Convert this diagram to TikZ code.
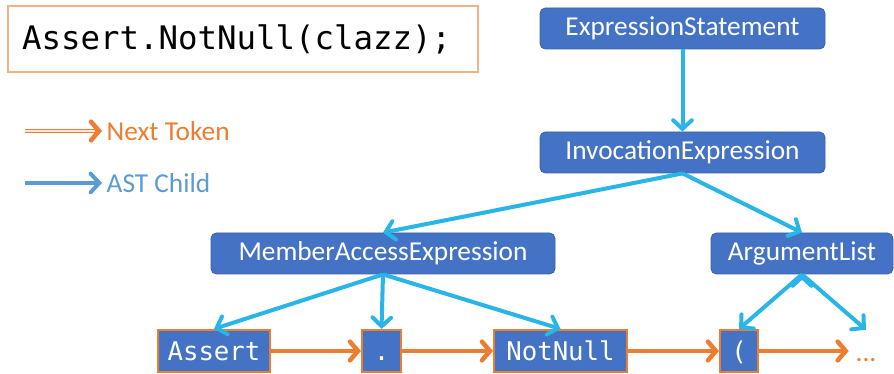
\documentclass[tikz,border=0pt]{standalone}
\usepackage{fontspec}
\setmainfont{Carlito}
\newfontfamily\codefont{DejaVu Sans Mono}
\usetikzlibrary{arrows.meta, positioning}

\definecolor{nodeblue}{HTML}{4472C4}
\definecolor{edgeblue}{HTML}{29B5E8}
\definecolor{tokorange}{HTML}{ED7D31}
\definecolor{legblue}{HTML}{5B9BD5}
\definecolor{codeborder}{HTML}{F4B183}

\begin{document}
\begin{tikzpicture} [
						x=0.75pt, y=-0.75pt,
						astnode/.style={rectangle, rounded corners=4pt, draw=nodeblue!85!black, line width=0.6pt, fill=nodeblue, text=white, minimum height=30.75pt, inner sep=0pt, font=\fontsize{20.5}{22}\selectfont},
						token/.style={rectangle, draw=tokorange, line width=1.6pt, fill=nodeblue, text=white, minimum height=31.5pt, inner sep=0pt, text height=15.5pt, text depth=1.5pt, font=\codefont\fontsize{19.3}{21}\selectfont},
						child/.style={draw=edgeblue, line width=3pt, -{Straight Barb[length=6.5pt, width=14pt, line cap=round]}},
						nexttok/.style={draw=tokorange, line width=3.4pt, -{Straight Barb[length=6pt, width=14pt, line cap=round]}, postaction={draw=tokorange!20, line width=1.3pt, -, shorten >=5pt}}
					]

\useasboundingbox (0,0) rectangle (894,374);

% source line
\node (code) [draw=codeborder, line width=1pt, text width=331.5pt, inner xsep=10.5pt, minimum height=49.5pt, align=left, font=\codefont\fontsize{24.3}{26}\selectfont] at (243,39) {Assert.NotNull(clazz);};

% legend
\coordinate (ntstart) at (25,131);
\coordinate (acstart) at (25,183);
\node (ntlabel) [anchor=west, text=tokorange, font=\fontsize{20.5}{22}\selectfont] at (102,131) {Next Token};
\node (aclabel) [anchor=west, text=legblue, font=\fontsize{20.5}{22}\selectfont] at (102,183) {AST Child};
\draw[nexttok] (ntstart) -- (ntlabel.west);
\draw[child, draw=legblue] (acstart) -- (aclabel.west);

% syntax tree
\node (es)  [astnode, minimum width=213.75pt] at (682.5,28.5) {ExpressionStatement};
\node (ie)  [astnode, minimum width=213.75pt] at (682.5,152.5) {InvocationExpression};
\node (mae) [astnode, minimum width=258pt] at (383,253.5) {MemberAccessExpression};
\node (al)  [astnode, minimum width=136.5pt] at (802,253.5) {ArgumentList};

% tokens
\node (assert)  [token, minimum width=84pt] at (214,351) {Assert};
\node (dot)     [token, minimum width=29.25pt] at (381.5,351) {.};
\node (notnull) [token, minimum width=99.75pt] at (560.5,351) {NotNull};
\node (paren)   [token, minimum width=28.5pt] at (739,351) {(};
\node (dots)    [anchor=base, text height=24pt, text depth=7.5pt, inner xsep=5pt, inner ysep=0pt, text=tokorange, font=\fontsize{20.5}{22}\selectfont] at (866,362) {...};

\path[child]
	(es.south)  edge (ie.north)
	(ie.south)  edge (mae.north)
	(ie.south)  edge (al.north)
	(mae.south) edge (assert.north)
	(mae.south) edge (dot.north)
	(mae.south) edge (notnull.north)
	(al.south)  edge (paren.north)
	(al.south)  edge (dots.north);

\path[nexttok]
	(assert)  edge (dot)
	(dot)     edge (notnull)
	(notnull) edge (paren)
	(paren)   edge (dots);

\end{tikzpicture}
\end{document}
